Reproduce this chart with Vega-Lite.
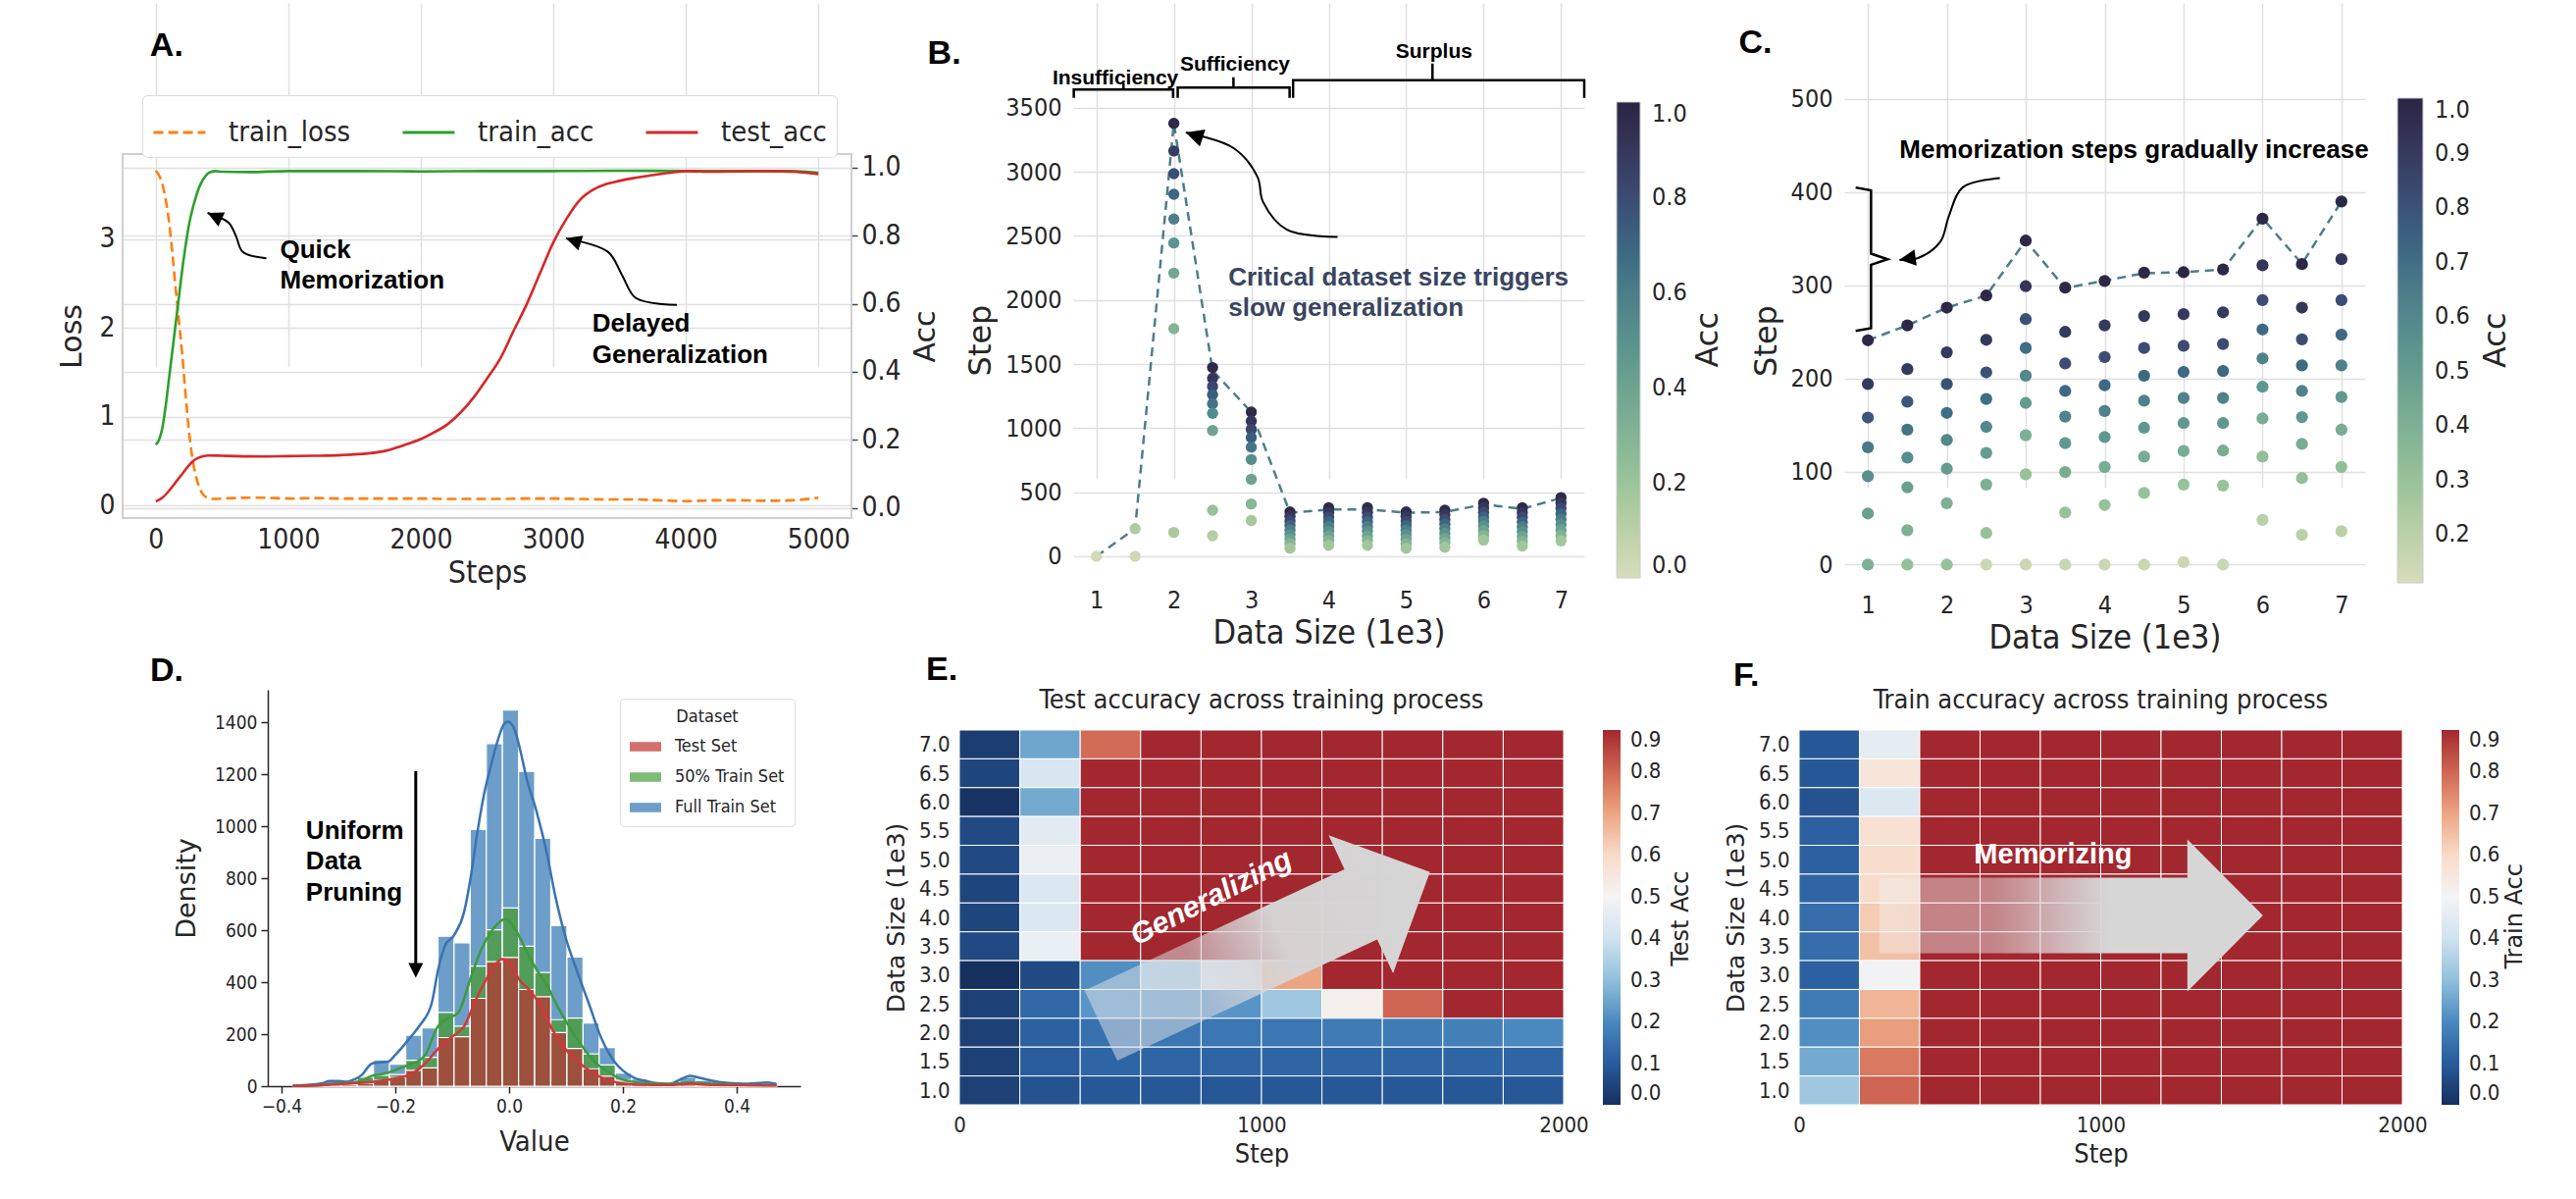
{
"$schema":"https://vega.github.io/schema/vega-lite/v6.json",
"background":"white",
"padding":0,
"spacing":650,
"bounds":"flush",
"resolve":{"scale":{"color":"independent","fill":"independent","stroke":"independent"},"legend":{"color":"independent","fill":"independent","stroke":"independent"}},
"vconcat":[
{"hconcat":[
{"width":125,"height":640,"view":{"fill":"white","stroke":null},"data":{"values":[{}]},"mark":{"type":"point","opacity":0},"encoding":{}},
{
"width":743,"height":525,
"data":{"values":[
{"s":"train_loss","t":0,"v":3.77},{"s":"train_loss","t":25,"v":3.72},{"s":"train_loss","t":50,"v":3.62},{"s":"train_loss","t":75,"v":3.45},{"s":"train_loss","t":100,"v":3.2},{"s":"train_loss","t":125,"v":2.85},{"s":"train_loss","t":150,"v":2.45},{"s":"train_loss","t":175,"v":2.08},{"s":"train_loss","t":200,"v":1.7},{"s":"train_loss","t":225,"v":1.25},{"s":"train_loss","t":250,"v":0.85},{"s":"train_loss","t":275,"v":0.55},{"s":"train_loss","t":300,"v":0.35},{"s":"train_loss","t":325,"v":0.22},{"s":"train_loss","t":350,"v":0.14},{"s":"train_loss","t":375,"v":0.1},{"s":"train_loss","t":400,"v":0.085},{"s":"train_loss","t":450,"v":0.075},{"s":"train_loss","t":500,"v":0.08},{"s":"train_loss","t":600,"v":0.085},{"s":"train_loss","t":700,"v":0.09},{"s":"train_loss","t":800,"v":0.09},{"s":"train_loss","t":900,"v":0.085},{"s":"train_loss","t":1000,"v":0.08},{"s":"train_loss","t":1200,"v":0.085},{"s":"train_loss","t":1400,"v":0.08},{"s":"train_loss","t":1600,"v":0.08},{"s":"train_loss","t":1800,"v":0.08},{"s":"train_loss","t":2000,"v":0.08},{"s":"train_loss","t":2200,"v":0.075},{"s":"train_loss","t":2400,"v":0.075},{"s":"train_loss","t":2600,"v":0.075},{"s":"train_loss","t":2800,"v":0.08},{"s":"train_loss","t":3000,"v":0.08},{"s":"train_loss","t":3200,"v":0.075},{"s":"train_loss","t":3400,"v":0.07},{"s":"train_loss","t":3600,"v":0.07},{"s":"train_loss","t":3800,"v":0.06},{"s":"train_loss","t":4000,"v":0.05},{"s":"train_loss","t":4200,"v":0.06},{"s":"train_loss","t":4400,"v":0.06},{"s":"train_loss","t":4600,"v":0.055},{"s":"train_loss","t":4800,"v":0.06},{"s":"train_loss","t":5000,"v":0.09},
{"s":"train_acc","t":0,"v":0.186},{"s":"train_acc","t":25,"v":0.2},{"s":"train_acc","t":50,"v":0.235},{"s":"train_acc","t":75,"v":0.3},{"s":"train_acc","t":100,"v":0.38},{"s":"train_acc","t":125,"v":0.46},{"s":"train_acc","t":150,"v":0.54},{"s":"train_acc","t":175,"v":0.62},{"s":"train_acc","t":200,"v":0.7},{"s":"train_acc","t":225,"v":0.77},{"s":"train_acc","t":250,"v":0.83},{"s":"train_acc","t":275,"v":0.875},{"s":"train_acc","t":300,"v":0.91},{"s":"train_acc","t":325,"v":0.94},{"s":"train_acc","t":350,"v":0.96},{"s":"train_acc","t":375,"v":0.975},{"s":"train_acc","t":400,"v":0.985},{"s":"train_acc","t":450,"v":0.99},{"s":"train_acc","t":500,"v":0.988},{"s":"train_acc","t":700,"v":0.987},{"s":"train_acc","t":1000,"v":0.99},{"s":"train_acc","t":1500,"v":0.99},{"s":"train_acc","t":2000,"v":0.989},{"s":"train_acc","t":2500,"v":0.99},{"s":"train_acc","t":3000,"v":0.99},{"s":"train_acc","t":3500,"v":0.991},{"s":"train_acc","t":4000,"v":0.99},{"s":"train_acc","t":4500,"v":0.99},{"s":"train_acc","t":4800,"v":0.99},{"s":"train_acc","t":5000,"v":0.985},
{"s":"test_acc","t":0,"v":0.019},{"s":"test_acc","t":50,"v":0.03},{"s":"test_acc","t":100,"v":0.05},{"s":"test_acc","t":150,"v":0.075},{"s":"test_acc","t":200,"v":0.1},{"s":"test_acc","t":250,"v":0.125},{"s":"test_acc","t":300,"v":0.143},{"s":"test_acc","t":350,"v":0.151},{"s":"test_acc","t":400,"v":0.154},{"s":"test_acc","t":500,"v":0.153},{"s":"test_acc","t":600,"v":0.152},{"s":"test_acc","t":800,"v":0.151},{"s":"test_acc","t":1000,"v":0.152},{"s":"test_acc","t":1200,"v":0.153},{"s":"test_acc","t":1400,"v":0.155},{"s":"test_acc","t":1600,"v":0.16},{"s":"test_acc","t":1700,"v":0.165},{"s":"test_acc","t":1800,"v":0.175},{"s":"test_acc","t":1900,"v":0.188},{"s":"test_acc","t":2000,"v":0.202},{"s":"test_acc","t":2100,"v":0.222},{"s":"test_acc","t":2200,"v":0.245},{"s":"test_acc","t":2300,"v":0.28},{"s":"test_acc","t":2400,"v":0.325},{"s":"test_acc","t":2500,"v":0.38},{"s":"test_acc","t":2600,"v":0.439},{"s":"test_acc","t":2700,"v":0.52},{"s":"test_acc","t":2800,"v":0.599},{"s":"test_acc","t":2900,"v":0.69},{"s":"test_acc","t":3000,"v":0.78},{"s":"test_acc","t":3100,"v":0.85},{"s":"test_acc","t":3200,"v":0.905},{"s":"test_acc","t":3300,"v":0.935},{"s":"test_acc","t":3400,"v":0.952},{"s":"test_acc","t":3500,"v":0.961},{"s":"test_acc","t":3600,"v":0.969},{"s":"test_acc","t":3700,"v":0.975},{"s":"test_acc","t":3800,"v":0.981},{"s":"test_acc","t":3900,"v":0.986},{"s":"test_acc","t":4000,"v":0.99},{"s":"test_acc","t":4200,"v":0.988},{"s":"test_acc","t":4400,"v":0.989},{"s":"test_acc","t":4600,"v":0.99},{"s":"test_acc","t":4800,"v":0.988},{"s":"test_acc","t":5000,"v":0.981}
]},
"layer":[
{"layer":[
{"transform":[{"filter":"datum.s == 'train_loss'"}],
"mark":{"type":"line","strokeWidth":2.6,"interpolate":"monotone","strokeDash":[10,5]},
"encoding":{
"x":{"field":"t","type":"quantitative","scale":{"domain":[-250,5250],"nice":false,"zero":false},"axis":{"values":[0,1000,2000,3000,4000,5000],"format":"d","title":"Steps","grid":true,"labelFlush":false,"labelFontSize":28,"titleFontSize":32,"labelPadding":8,"titlePadding":4}},
"y":{"field":"v","type":"quantitative","scale":{"domain":[-0.14,3.96],"range":[525,154],"nice":false,"zero":false},"axis":{"values":[0,1,2,3],"format":"d","title":"Loss","grid":true,"labelFontSize":28,"titleFontSize":30,"titleFont":"DejaVu Sans","labelPadding":8,"titlePadding":12}},
"color":{"field":"s","type":"nominal","scale":{"domain":["train_loss","train_acc","test_acc"],"range":["#ff7f0e","#2ca02c","#d62728"]},"legend":{"title":null,"orient":"none","legendX":20,"legendY":94,"direction":"horizontal","columns":3,"labelFontSize":29,"labelFont":"DejaVu Sans Condensed","labelColor":"#262626","symbolType":"stroke","symbolSize":2800,"symbolStrokeWidth":3,"columnPadding":46,"labelOffset":22,"padding":10,"strokeColor":"#dddddd","fillColor":"white","cornerRadius":5,"encode":{"symbols":{"update":{"strokeDash":{"signal":"datum.value == 'train_loss' ? [10,5] : [1,0]"}}}}}}
}},
{"mark":{"type":"rect","fillOpacity":0,"stroke":"#d0d0d0","strokeWidth":1.5},
"encoding":{"x":{"datum":-250,"type":"quantitative","scale":{"domain":[-250,5250],"nice":false,"zero":false}},"x2":{"datum":5250},"y":{"datum":-0.14,"type":"quantitative","scale":{"domain":[-0.14,3.96],"range":[525,154],"nice":false,"zero":false}},"y2":{"datum":3.96}}},
{"data":{"values":[{"t":-44,"v":5.07,"txt":"A."}]},"mark":{"type":"text","fontSize":34,"align":"left","baseline":"alphabetic"},
"encoding":{"x":{"field":"t","type":"quantitative","scale":{"domain":[-250,5250],"nice":false,"zero":false}},"y":{"field":"v","type":"quantitative","scale":{"domain":[-0.14,3.96],"range":[525,154],"nice":false,"zero":false}},"text":{"field":"txt"}}},
{"data":{"values":[{"t":938,"v":2.79,"txt":"Quick"},{"t":938,"v":2.45,"txt":"Memorization"},{"t":3294,"v":1.956,"txt":"Delayed"},{"t":3294,"v":1.61,"txt":"Generalization"}]},"mark":{"type":"text","fontSize":26,"align":"left","baseline":"alphabetic"},
"encoding":{"x":{"field":"t","type":"quantitative","scale":{"domain":[-250,5250],"nice":false,"zero":false}},"y":{"field":"v","type":"quantitative","scale":{"domain":[-0.14,3.96],"range":[525,154],"nice":false,"zero":false}},"text":{"field":"txt"}}},
{"data":{"values":[{"id":"q","o":0,"t":835,"v":2.786},{"id":"q","o":1,"t":657,"v":2.857},{"id":"q","o":2,"t":606,"v":3.033},{"id":"q","o":3,"t":550,"v":3.187},{"id":"q","o":4,"t":391,"v":3.297},{"id":"d","o":0,"t":3933,"v":2.26},{"id":"d","o":1,"t":3623,"v":2.338},{"id":"d","o":2,"t":3518,"v":2.599},{"id":"d","o":3,"t":3412,"v":2.859},{"id":"d","o":4,"t":3095,"v":3.011}]},
"mark":{"type":"line","interpolate":"catmull-rom","color":"black","strokeWidth":2},
"encoding":{"x":{"field":"t","type":"quantitative","scale":{"domain":[-250,5250],"nice":false,"zero":false}},"y":{"field":"v","type":"quantitative","scale":{"domain":[-0.14,3.96],"range":[525,154],"nice":false,"zero":false}},"detail":{"field":"id"},"order":{"field":"o","type":"quantitative"}}},
{"data":{"values":[{"t":391,"v":3.297}]},"mark":{"type":"point","shape":"M0,0L-1,-0.5L-1,0.5Z","filled":true,"color":"black","opacity":1,"size":1000,"angle":205},
"encoding":{"x":{"field":"t","type":"quantitative","scale":{"domain":[-250,5250],"nice":false,"zero":false}},"y":{"field":"v","type":"quantitative","scale":{"domain":[-0.14,3.96],"range":[525,154],"nice":false,"zero":false}}}},
{"data":{"values":[{"t":3095,"v":3.011}]},"mark":{"type":"point","shape":"M0,0L-1,-0.5L-1,0.5Z","filled":true,"color":"black","opacity":1,"size":1000,"angle":198},
"encoding":{"x":{"field":"t","type":"quantitative","scale":{"domain":[-250,5250],"nice":false,"zero":false}},"y":{"field":"v","type":"quantitative","scale":{"domain":[-0.14,3.96],"range":[525,154],"nice":false,"zero":false}}}}
]},
{"transform":[{"filter":"datum.s != 'train_loss'"}],
"mark":{"type":"line","strokeWidth":2.6,"interpolate":"monotone"},
"encoding":{
"x":{"field":"t","type":"quantitative","scale":{"domain":[-250,5250],"nice":false,"zero":false}},
"y":{"field":"v","type":"quantitative","scale":{"domain":[-0.03,1.04],"range":[525,154],"nice":false,"zero":false},"axis":{"orient":"right","values":[0,0.2,0.4,0.6,0.8,1],"format":".1f","title":"Acc","grid":true,"ticks":true,"tickSize":6,"tickWidth":1.5,"tickColor":"#444444","labelFontSize":28,"titleFontSize":30,"titleFont":"DejaVu Sans","titleAngle":270,"titleBaseline":"top","labelPadding":4,"titlePadding":10}},
"color":{"field":"s","type":"nominal","scale":{"domain":["train_loss","train_acc","test_acc"],"range":["#ff7f0e","#2ca02c","#d62728"]},"legend":{"title":null,"orient":"none","legendX":20,"legendY":94,"direction":"horizontal","columns":3,"labelFontSize":29,"labelFont":"DejaVu Sans Condensed","labelColor":"#262626","symbolType":"stroke","symbolSize":2800,"symbolStrokeWidth":3,"columnPadding":46,"labelOffset":22,"padding":10,"strokeColor":"#dddddd","fillColor":"white","cornerRadius":5,"encode":{"symbols":{"update":{"strokeDash":{"signal":"datum.value == 'train_loss' ? [10,5] : [1,0]"}}}}}}
}}
],
"resolve":{"scale":{"y":"independent"}}
},
{"width":226,"height":1,"data":{"values":[{}]},"mark":{"type":"point","opacity":0},"encoding":{}},
{
"width":521,"height":586,
"layer":[
{"mark":{"type":"rect","fillOpacity":0,"stroke":"#d0d0d0","strokeWidth":1.5},
"encoding":{"x":{"datum":0.7,"type":"quantitative","scale":{"domain":[0.7,7.3],"nice":false,"zero":false}},"x2":{"datum":7.3},"y":{"datum":-169,"type":"quantitative","scale":{"domain":[-169,3545],"range":[586,101],"nice":false,"zero":false}},"y2":{"datum":3545}}},
{"data":{"values":[{"x":1,"s":0},{"x":1.5,"s":215},{"x":2,"s":3379},{"x":2.5,"s":1450},{"x":3,"s":1125},{"x":3.5,"s":340},{"x":4,"s":365},{"x":4.5,"s":365},{"x":5,"s":340},{"x":5.5,"s":345},{"x":6,"s":405},{"x":6.5,"s":370},{"x":7,"s":455}]},
"mark":{"type":"line","strokeDash":[9,6],"strokeWidth":2.5,"color":"#4c7e8a"},
"encoding":{
"x":{"field":"x","type":"quantitative","scale":{"domain":[0.7,7.3],"nice":false,"zero":false},"axis":{"values":[1,2,3,4,5,6,7],"format":"d","title":"Data Size (1e3)","grid":true,"labelFlush":false,"labelFontSize":25,"titleFontSize":34,"labelPadding":10,"titlePadding":4}},
"y":{"field":"s","type":"quantitative","scale":{"domain":[-169,3545],"range":[586,101],"nice":false,"zero":false},"axis":{"values":[0,500,1000,1500,2000,2500,3000,3500],"format":"d","title":"Step","grid":true,"labelFontSize":25,"titleFontSize":32,"titleFont":"DejaVu Sans","labelPadding":12,"titlePadding":8}}
}},
{"data":{"values":[
{"x":1,"s":0,"a":0.02},{"x":1.5,"s":0,"a":0.03},{"x":1.5,"s":215,"a":0.14},
{"x":2,"s":3379,"a":0.97},{"x":2,"s":3163,"a":0.88},{"x":2,"s":2986,"a":0.79},{"x":2,"s":2825,"a":0.69},{"x":2,"s":2632,"a":0.59},{"x":2,"s":2445,"a":0.48},{"x":2,"s":2210,"a":0.38},{"x":2,"s":1776,"a":0.3},{"x":2,"s":186,"a":0.15},
{"x":2.5,"s":1473,"a":0.97},{"x":2.5,"s":1389,"a":0.9},{"x":2.5,"s":1325,"a":0.82},{"x":2.5,"s":1261,"a":0.73},{"x":2.5,"s":1190,"a":0.64},{"x":2.5,"s":1116,"a":0.53},{"x":2.5,"s":981,"a":0.4},{"x":2.5,"s":359,"a":0.22},{"x":2.5,"s":160,"a":0.12},
{"x":3,"s":1125,"a":0.97},{"x":3,"s":1054,"a":0.9},{"x":3,"s":990,"a":0.82},{"x":3,"s":926,"a":0.73},{"x":3,"s":852,"a":0.63},{"x":3,"s":755,"a":0.52},{"x":3,"s":601,"a":0.4},{"x":3,"s":408,"a":0.28},{"x":3,"s":279,"a":0.17},
{"x":3.5,"s":346,"a":0.97},{"x":3.5,"s":311,"a":0.9},{"x":3.5,"s":275,"a":0.8},{"x":3.5,"s":240,"a":0.7},{"x":3.5,"s":205,"a":0.6},{"x":3.5,"s":169,"a":0.5},{"x":3.5,"s":134,"a":0.4},{"x":3.5,"s":98,"a":0.3},{"x":3.5,"s":63,"a":0.18},
{"x":4,"s":378,"a":0.97},{"x":4,"s":342,"a":0.9},{"x":4,"s":305,"a":0.8},{"x":4,"s":269,"a":0.7},{"x":4,"s":232,"a":0.6},{"x":4,"s":196,"a":0.5},{"x":4,"s":159,"a":0.4},{"x":4,"s":123,"a":0.3},{"x":4,"s":86,"a":0.18},
{"x":4.5,"s":378,"a":0.97},{"x":4.5,"s":342,"a":0.9},{"x":4.5,"s":305,"a":0.8},{"x":4.5,"s":269,"a":0.7},{"x":4.5,"s":232,"a":0.6},{"x":4.5,"s":196,"a":0.5},{"x":4.5,"s":159,"a":0.4},{"x":4.5,"s":123,"a":0.3},{"x":4.5,"s":86,"a":0.18},
{"x":5,"s":346,"a":0.97},{"x":5,"s":311,"a":0.9},{"x":5,"s":275,"a":0.8},{"x":5,"s":240,"a":0.7},{"x":5,"s":205,"a":0.6},{"x":5,"s":169,"a":0.5},{"x":5,"s":134,"a":0.4},{"x":5,"s":98,"a":0.3},{"x":5,"s":63,"a":0.18},
{"x":5.5,"s":359,"a":0.97},{"x":5.5,"s":323,"a":0.9},{"x":5.5,"s":287,"a":0.8},{"x":5.5,"s":251,"a":0.7},{"x":5.5,"s":215,"a":0.6},{"x":5.5,"s":178,"a":0.5},{"x":5.5,"s":142,"a":0.4},{"x":5.5,"s":106,"a":0.3},{"x":5.5,"s":70,"a":0.18},
{"x":6,"s":414,"a":0.97},{"x":6,"s":378,"a":0.9},{"x":6,"s":342,"a":0.8},{"x":6,"s":306,"a":0.7},{"x":6,"s":271,"a":0.6},{"x":6,"s":235,"a":0.5},{"x":6,"s":199,"a":0.4},{"x":6,"s":163,"a":0.3},{"x":6,"s":127,"a":0.18},
{"x":6.5,"s":378,"a":0.97},{"x":6.5,"s":341,"a":0.9},{"x":6.5,"s":304,"a":0.8},{"x":6.5,"s":266,"a":0.7},{"x":6.5,"s":229,"a":0.6},{"x":6.5,"s":192,"a":0.5},{"x":6.5,"s":155,"a":0.4},{"x":6.5,"s":117,"a":0.3},{"x":6.5,"s":80,"a":0.18},
{"x":7,"s":458,"a":0.97},{"x":7,"s":416,"a":0.9},{"x":7,"s":374,"a":0.8},{"x":7,"s":331,"a":0.7},{"x":7,"s":289,"a":0.6},{"x":7,"s":247,"a":0.5},{"x":7,"s":205,"a":0.4},{"x":7,"s":162,"a":0.3},{"x":7,"s":120,"a":0.18}
]},
"mark":{"type":"circle","size":130,"opacity":1},
"encoding":{
"x":{"field":"x","type":"quantitative","scale":{"domain":[0.7,7.3],"nice":false,"zero":false}},
"y":{"field":"s","type":"quantitative","scale":{"domain":[-169,3545],"range":[586,101],"nice":false,"zero":false}},
"color":{"field":"a","type":"quantitative","scale":{"domain":[0,0.2,0.4,0.6,0.8,1],"range":["#d7dcbc","#9bc49a","#6ea390","#4d7d88","#3c4b73","#2b2443"]},"legend":{"title":null,"orient":"none","legendX":554,"legendY":101,"direction":"vertical","gradientLength":485,"gradientThickness":24,"gradientStrokeColor":"#cccccc","gradientStrokeWidth":1,"values":[0,0.2,0.4,0.6,0.8,1],"format":".1f","labelFontSize":25,"labelOffset":12,"labelOverlap":false,"padding":0}}
}},
{"data":{"values":[{"b":"i","o":0,"x":0.708,"s":3578},{"b":"i","o":1,"x":0.708,"s":3642},{"b":"i","o":2,"x":1.35,"s":3642},{"b":"i","o":3,"x":1.35,"s":3690},{"b":"i","o":4,"x":1.35,"s":3642},{"b":"i","o":5,"x":1.99,"s":3642},{"b":"i","o":6,"x":1.99,"s":3578},
{"b":"s","o":0,"x":2.05,"s":3578},{"b":"s","o":1,"x":2.05,"s":3658},{"b":"s","o":2,"x":2.77,"s":3658},{"b":"s","o":3,"x":2.77,"s":3739},{"b":"s","o":4,"x":2.77,"s":3658},{"b":"s","o":5,"x":3.495,"s":3658},{"b":"s","o":6,"x":3.495,"s":3578},
{"b":"u","o":0,"x":3.54,"s":3578},{"b":"u","o":1,"x":3.54,"s":3716},{"b":"u","o":2,"x":5.34,"s":3716},{"b":"u","o":3,"x":5.34,"s":3845},{"b":"u","o":4,"x":5.34,"s":3716},{"b":"u","o":5,"x":7.3,"s":3716},{"b":"u","o":6,"x":7.3,"s":3578}]},
"mark":{"type":"line","color":"black","strokeWidth":2.5},
"encoding":{"x":{"field":"x","type":"quantitative","scale":{"domain":[0.7,7.3],"nice":false,"zero":false}},"y":{"field":"s","type":"quantitative","scale":{"domain":[-169,3545],"range":[586,101],"nice":false,"zero":false}},"detail":{"field":"b"},"order":{"field":"o","type":"quantitative"}}},
{"data":{"values":[{"x":1.246,"s":3685,"txt":"Insufficiency"},{"x":2.79,"s":3790,"txt":"Sufficiency"},{"x":5.36,"s":3887,"txt":"Surplus"}]},
"mark":{"type":"text","fontSize":21,"align":"center","baseline":"alphabetic"},
"encoding":{"x":{"field":"x","type":"quantitative","scale":{"domain":[0.7,7.3],"nice":false,"zero":false}},"y":{"field":"s","type":"quantitative","scale":{"domain":[-169,3545],"range":[586,101],"nice":false,"zero":false}},"text":{"field":"txt"}}},
{"data":{"values":[{"o":0,"x":4.114,"s":2493},{"o":1,"x":3.461,"s":2548},{"o":2,"x":3.151,"s":2767},{"o":3,"x":3.081,"s":2960},{"o":4,"x":2.773,"s":3185},{"o":5,"x":2.154,"s":3307}]},
"mark":{"type":"line","interpolate":"catmull-rom","color":"black","strokeWidth":2},
"encoding":{"x":{"field":"x","type":"quantitative","scale":{"domain":[0.7,7.3],"nice":false,"zero":false}},"y":{"field":"s","type":"quantitative","scale":{"domain":[-169,3545],"range":[586,101],"nice":false,"zero":false}},"order":{"field":"o","type":"quantitative"}}},
{"data":{"values":[{"x":2.154,"s":3307}]},"mark":{"type":"point","shape":"M0,0L-1,-0.5L-1,0.5Z","filled":true,"color":"black","opacity":1,"size":1300,"angle":198},
"encoding":{"x":{"field":"x","type":"quantitative","scale":{"domain":[0.7,7.3],"nice":false,"zero":false}},"y":{"field":"s","type":"quantitative","scale":{"domain":[-169,3545],"range":[586,101],"nice":false,"zero":false}}}},
{"data":{"values":[{"x":2.704,"s":2114,"txt":"Critical dataset size triggers"},{"x":2.704,"s":1875,"txt":"slow generalization"}]},
"mark":{"type":"text","fontSize":26,"align":"left","baseline":"alphabetic","color":"#3a4560"},
"encoding":{"x":{"field":"x","type":"quantitative","scale":{"domain":[0.7,7.3],"nice":false,"zero":false}},"y":{"field":"s","type":"quantitative","scale":{"domain":[-169,3545],"range":[586,101],"nice":false,"zero":false}},"text":{"field":"txt"}}},
{"data":{"values":[{"x":-1.18,"s":3846,"txt":"B."}]},
"mark":{"type":"text","fontSize":34,"align":"left","baseline":"alphabetic"},
"encoding":{"x":{"field":"x","type":"quantitative","scale":{"domain":[0.7,7.3],"nice":false,"zero":false}},"y":{"field":"s","type":"quantitative","scale":{"domain":[-169,3545],"range":[586,101],"nice":false,"zero":false}},"text":{"field":"txt"}}},
{"data":{"values":[{"x":8.89,"s":1690,"txt":"Acc"}]},
"mark":{"type":"text","font":"DejaVu Sans","fontWeight":"normal","fontSize":32,"color":"#262626","angle":270,"align":"center","baseline":"middle"},
"encoding":{"x":{"field":"x","type":"quantitative","scale":{"domain":[0.7,7.3],"nice":false,"zero":false}},"y":{"field":"s","type":"quantitative","scale":{"domain":[-169,3545],"range":[586,101],"nice":false,"zero":false}},"text":{"field":"txt"}}}
]
},
{"width":265,"height":1,"data":{"values":[{}]},"mark":{"type":"point","opacity":0},"encoding":{}},
{
"width":531,"height":591,
"layer":[
{"mark":{"type":"rect","fillOpacity":0,"stroke":"#d0d0d0","strokeWidth":1.5},
"encoding":{"x":{"datum":0.7,"type":"quantitative","scale":{"domain":[0.7,7.3],"nice":false,"zero":false}},"x2":{"datum":7.3},"y":{"datum":-19.5,"type":"quantitative","scale":{"domain":[-19.5,501],"range":[591,97],"nice":false,"zero":false}},"y2":{"datum":501}}},
{"data":{"values":[{"x":1,"s":241},{"x":1.5,"s":257},{"x":2,"s":276},{"x":2.5,"s":289},{"x":3,"s":348},{"x":3.5,"s":297},{"x":4,"s":305},{"x":4.5,"s":313},{"x":5,"s":314},{"x":5.5,"s":317},{"x":6,"s":372},{"x":6.5,"s":323},{"x":7,"s":390}]},
"mark":{"type":"line","strokeDash":[9,6],"strokeWidth":2.5,"color":"#4c7e8a"},
"encoding":{
"x":{"field":"x","type":"quantitative","scale":{"domain":[0.7,7.3],"nice":false,"zero":false},"axis":{"values":[1,2,3,4,5,6,7],"format":"d","title":"Data Size (1e3)","grid":true,"labelFlush":false,"labelFontSize":25,"titleFontSize":34,"labelPadding":10,"titlePadding":4}},
"y":{"field":"s","type":"quantitative","scale":{"domain":[-19.5,501],"range":[591,97],"nice":false,"zero":false},"axis":{"values":[0,100,200,300,400,500],"format":"d","title":"Step","grid":true,"labelFontSize":25,"titleFontSize":32,"titleFont":"DejaVu Sans","labelPadding":12,"titlePadding":8}}
}},
{"data":{"values":[
{"x":1,"s":241,"a":0.98},{"x":1,"s":194,"a":0.9},{"x":1,"s":158,"a":0.78},{"x":1,"s":126,"a":0.66},{"x":1,"s":95,"a":0.56},{"x":1,"s":55,"a":0.48},{"x":1,"s":0,"a":0.4},
{"x":1.5,"s":257,"a":0.98},{"x":1.5,"s":210,"a":0.9},{"x":1.5,"s":175,"a":0.78},{"x":1.5,"s":145,"a":0.68},{"x":1.5,"s":115,"a":0.57},{"x":1.5,"s":83,"a":0.48},{"x":1.5,"s":37,"a":0.4},{"x":1.5,"s":0,"a":0.32},
{"x":2,"s":276,"a":0.98},{"x":2,"s":228,"a":0.9},{"x":2,"s":194,"a":0.8},{"x":2,"s":163,"a":0.7},{"x":2,"s":134,"a":0.6},{"x":2,"s":103,"a":0.5},{"x":2,"s":66,"a":0.4},{"x":2,"s":0,"a":0.3},
{"x":2.5,"s":289,"a":0.98},{"x":2.5,"s":241.5,"a":0.9},{"x":2.5,"s":206.5,"a":0.8},{"x":2.5,"s":178,"a":0.7},{"x":2.5,"s":148,"a":0.6},{"x":2.5,"s":120,"a":0.5},{"x":2.5,"s":86,"a":0.4},{"x":2.5,"s":34,"a":0.3},{"x":2.5,"s":0,"a":0.15},
{"x":3,"s":348,"a":0.98},{"x":3,"s":299,"a":0.92},{"x":3,"s":263.7,"a":0.8},{"x":3,"s":232.7,"a":0.7},{"x":3,"s":203,"a":0.6},{"x":3,"s":173.6,"a":0.5},{"x":3,"s":139,"a":0.4},{"x":3,"s":97,"a":0.3},{"x":3,"s":0,"a":0.15},
{"x":3.5,"s":297.5,"a":0.98},{"x":3.5,"s":250,"a":0.9},{"x":3.5,"s":216,"a":0.82},{"x":3.5,"s":186.5,"a":0.72},{"x":3.5,"s":159,"a":0.62},{"x":3.5,"s":130.5,"a":0.52},{"x":3.5,"s":99.5,"a":0.42},{"x":3.5,"s":56,"a":0.3},{"x":3.5,"s":0,"a":0.15},
{"x":4,"s":304.6,"a":0.98},{"x":4,"s":257,"a":0.9},{"x":4,"s":223,"a":0.82},{"x":4,"s":192.7,"a":0.72},{"x":4,"s":165,"a":0.62},{"x":4,"s":137,"a":0.52},{"x":4,"s":105,"a":0.42},{"x":4,"s":64,"a":0.3},{"x":4,"s":0,"a":0.15},
{"x":4.5,"s":313.5,"a":0.98},{"x":4.5,"s":267,"a":0.9},{"x":4.5,"s":232.7,"a":0.82},{"x":4.5,"s":203,"a":0.72},{"x":4.5,"s":176,"a":0.62},{"x":4.5,"s":147,"a":0.52},{"x":4.5,"s":116,"a":0.42},{"x":4.5,"s":77,"a":0.3},{"x":4.5,"s":0,"a":0.15},
{"x":5,"s":314,"a":0.98},{"x":5,"s":269,"a":0.9},{"x":5,"s":235,"a":0.82},{"x":5,"s":207,"a":0.72},{"x":5,"s":179,"a":0.62},{"x":5,"s":152,"a":0.52},{"x":5,"s":122,"a":0.42},{"x":5,"s":86,"a":0.3},{"x":5,"s":2.7,"a":0.15},
{"x":5.5,"s":317,"a":0.98},{"x":5.5,"s":271,"a":0.9},{"x":5.5,"s":237,"a":0.82},{"x":5.5,"s":208,"a":0.72},{"x":5.5,"s":179,"a":0.62},{"x":5.5,"s":152,"a":0.52},{"x":5.5,"s":122.5,"a":0.42},{"x":5.5,"s":85,"a":0.3},{"x":5.5,"s":0,"a":0.15},
{"x":6,"s":371.6,"a":0.98},{"x":6,"s":321.5,"a":0.92},{"x":6,"s":284,"a":0.82},{"x":6,"s":252.6,"a":0.72},{"x":6,"s":221.5,"a":0.62},{"x":6,"s":191,"a":0.52},{"x":6,"s":157,"a":0.42},{"x":6,"s":116,"a":0.32},{"x":6,"s":48,"a":0.2},
{"x":6.5,"s":322.8,"a":0.98},{"x":6.5,"s":276,"a":0.92},{"x":6.5,"s":242,"a":0.82},{"x":6.5,"s":214,"a":0.72},{"x":6.5,"s":186.5,"a":0.62},{"x":6.5,"s":158.5,"a":0.52},{"x":6.5,"s":129.6,"a":0.42},{"x":6.5,"s":93,"a":0.32},{"x":6.5,"s":32,"a":0.2},
{"x":7,"s":390,"a":0.98},{"x":7,"s":328,"a":0.92},{"x":7,"s":284,"a":0.82},{"x":7,"s":247,"a":0.72},{"x":7,"s":214,"a":0.62},{"x":7,"s":180,"a":0.52},{"x":7,"s":145,"a":0.42},{"x":7,"s":105,"a":0.32},{"x":7,"s":36,"a":0.2}
]},
"mark":{"type":"circle","size":150,"opacity":1},
"encoding":{
"x":{"field":"x","type":"quantitative","scale":{"domain":[0.7,7.3],"nice":false,"zero":false}},
"y":{"field":"s","type":"quantitative","scale":{"domain":[-19.5,501],"range":[591,97],"nice":false,"zero":false}},
"color":{"field":"a","type":"quantitative","scale":{"domain":[0.11,0.288,0.466,0.644,0.822,1],"range":["#d7dcbc","#9bc49a","#6ea390","#4d7d88","#3c4b73","#2b2443"]},"legend":{"title":null,"orient":"none","legendX":564,"legendY":97,"direction":"vertical","gradientLength":494,"gradientThickness":26,"gradientStrokeColor":"#cccccc","gradientStrokeWidth":1,"values":[0.2,0.3,0.4,0.5,0.6,0.7,0.8,0.9,1],"format":".1f","labelFontSize":25,"labelOffset":12,"labelOverlap":false,"padding":0}}
}},
{"data":{"values":[{"o":0,"x":0.845,"s":405},{"o":1,"x":1.04,"s":402},{"o":2,"x":1.04,"s":334},{"o":3,"x":1.25,"s":328},{"o":4,"x":1.04,"s":322},{"o":5,"x":1.04,"s":254},{"o":6,"x":0.845,"s":251}]},
"mark":{"type":"line","color":"black","strokeWidth":2.5},
"encoding":{"x":{"field":"x","type":"quantitative","scale":{"domain":[0.7,7.3],"nice":false,"zero":false}},"y":{"field":"s","type":"quantitative","scale":{"domain":[-19.5,501],"range":[591,97],"nice":false,"zero":false}},"order":{"field":"o","type":"quantitative"}}},
{"data":{"values":[{"o":0,"x":2.672,"s":415.2},{"o":1,"x":2.199,"s":405},{"o":2,"x":2.025,"s":374},{"o":3,"x":1.92,"s":347},{"o":4,"x":1.643,"s":329.5},{"o":5,"x":1.4,"s":327.3}]},
"mark":{"type":"line","interpolate":"catmull-rom","color":"black","strokeWidth":2},
"encoding":{"x":{"field":"x","type":"quantitative","scale":{"domain":[0.7,7.3],"nice":false,"zero":false}},"y":{"field":"s","type":"quantitative","scale":{"domain":[-19.5,501],"range":[591,97],"nice":false,"zero":false}},"order":{"field":"o","type":"quantitative"}}},
{"data":{"values":[{"x":1.4,"s":327.3}]},"mark":{"type":"point","shape":"M0,0L-1,-0.5L-1,0.5Z","filled":true,"color":"black","opacity":1,"size":1100,"angle":172},
"encoding":{"x":{"field":"x","type":"quantitative","scale":{"domain":[0.7,7.3],"nice":false,"zero":false}},"y":{"field":"s","type":"quantitative","scale":{"domain":[-19.5,501],"range":[591,97],"nice":false,"zero":false}}}},
{"data":{"values":[{"x":1.4,"s":437,"txt":"Memorization steps gradually increase"}]},
"mark":{"type":"text","fontSize":26,"align":"left","baseline":"alphabetic"},
"encoding":{"x":{"field":"x","type":"quantitative","scale":{"domain":[0.7,7.3],"nice":false,"zero":false}},"y":{"field":"s","type":"quantitative","scale":{"domain":[-19.5,501],"range":[591,97],"nice":false,"zero":false}},"text":{"field":"txt"}}},
{"data":{"values":[{"x":-0.636,"s":549,"txt":"C."}]},
"mark":{"type":"text","fontSize":34,"align":"left","baseline":"alphabetic"},
"encoding":{"x":{"field":"x","type":"quantitative","scale":{"domain":[0.7,7.3],"nice":false,"zero":false}},"y":{"field":"s","type":"quantitative","scale":{"domain":[-19.5,501],"range":[591,97],"nice":false,"zero":false}},"text":{"field":"txt"}}},
{"data":{"values":[{"x":8.95,"s":241,"txt":"Acc"}]},
"mark":{"type":"text","font":"DejaVu Sans","fontWeight":"normal","fontSize":32,"color":"#262626","angle":270,"align":"center","baseline":"middle"},
"encoding":{"x":{"field":"x","type":"quantitative","scale":{"domain":[0.7,7.3],"nice":false,"zero":false}},"y":{"field":"s","type":"quantitative","scale":{"domain":[-19.5,501],"range":[591,97],"nice":false,"zero":false}},"text":{"field":"txt"}}}
]
}
],"spacing":0,"bounds":"flush","resolve":{"scale":{"color":"independent","fill":"independent","stroke":"independent"},"legend":{"color":"independent","fill":"independent","stroke":"independent"}}},
{"hconcat":[
{"width":273,"height":1,"view":{"fill":"white","stroke":null},"data":{"values":[{}]},"mark":{"type":"point","opacity":0},"encoding":{}},
{
"width":543,"height":454,
"layer":[
{"data":{"values":[
{"x0":-0.38,"x1":-0.3517,"full":6,"half":2,"test":2},{"x0":-0.3517,"x1":-0.3233,"full":8,"half":3,"test":2},{"x0":-0.3233,"x1":-0.295,"full":22,"half":8,"test":5},{"x0":-0.295,"x1":-0.2667,"full":17,"half":11,"test":6},{"x0":-0.2667,"x1":-0.2383,"full":38,"half":34,"test":11},{"x0":-0.2383,"x1":-0.21,"full":101,"half":42,"test":22},{"x0":-0.21,"x1":-0.1817,"full":84,"half":45,"test":34},{"x0":-0.1817,"x1":-0.1533,"full":196,"half":100,"test":61},{"x0":-0.1533,"x1":-0.125,"full":224,"half":111,"test":70},{"x0":-0.125,"x1":-0.0967,"full":577,"half":284,"test":187},{"x0":-0.0967,"x1":-0.0683,"full":552,"half":231,"test":190},{"x0":-0.0683,"x1":-0.04,"full":988,"half":462,"test":338},{"x0":-0.04,"x1":-0.0117,"full":1319,"half":602,"test":479},{"x0":-0.0117,"x1":0.0167,"full":1448,"half":686,"test":495},{"x0":0.0167,"x1":0.045,"full":1212,"half":539,"test":372},{"x0":0.045,"x1":0.0733,"full":954,"half":438,"test":344},{"x0":0.0733,"x1":0.1017,"full":618,"half":256,"test":206},{"x0":0.1017,"x1":0.13,"full":497,"half":262,"test":145},{"x0":0.13,"x1":0.1583,"full":243,"half":124,"test":67},{"x0":0.1583,"x1":0.1867,"full":149,"half":82,"test":38},{"x0":0.1867,"x1":0.215,"full":50,"half":22,"test":15},{"x0":0.215,"x1":0.2433,"full":28,"half":10,"test":6},{"x0":0.2433,"x1":0.2717,"full":17,"half":8,"test":4},{"x0":0.2717,"x1":0.3,"full":10,"half":6,"test":3},{"x0":0.3,"x1":0.3283,"full":34,"half":12,"test":8},{"x0":0.3283,"x1":0.3567,"full":22,"half":8,"test":5},{"x0":0.3567,"x1":0.385,"full":17,"half":6,"test":4},{"x0":0.385,"x1":0.4133,"full":10,"half":5,"test":3},{"x0":0.4133,"x1":0.4417,"full":10,"half":5,"test":3},{"x0":0.4417,"x1":0.47,"full":17,"half":7,"test":5}
]},
"transform":[{"fold":["full","half","test"],"as":["ds","n"]}],
"mark":{"type":"rect","stroke":"white","strokeWidth":1.2,"opacity":1},
"encoding":{
"x":{"field":"x0","type":"quantitative","scale":{"domain":[-0.424,0.512],"nice":false,"zero":false},"axis":{"values":[-0.4,-0.2,0,0.2,0.4],"format":".1f","title":"Value","domain":true,"domainColor":"#262626","domainWidth":1.5,"ticks":true,"tickColor":"#262626","tickWidth":1.5,"tickSize":7,"labelFlush":false,"labelFontSize":19,"titleFontSize":29,"labelPadding":4,"titlePadding":12,"grid":false}},
"x2":{"field":"x1"},
"y":{"field":"n","type":"quantitative","scale":{"domain":[0,1526],"range":[454,50],"nice":false,"zero":false},"axis":{"values":[0,200,400,600,800,1000,1200,1400],"format":"d","title":"Density","domain":true,"domainColor":"#262626","domainWidth":1.5,"ticks":true,"tickColor":"#262626","tickWidth":1.5,"tickSize":7,"labelFontSize":19,"titleFontSize":27,"titleFont":"DejaVu Sans","labelPadding":4,"titlePadding":14,"grid":false}},
"y2":{"datum":0},
"color":{"field":"ds","type":"nominal","scale":{"domain":["full","half","test"],"range":["#6d9ec9","#529c5a","#9c503d"]},"legend":null}
}},
{"data":{"values":[
{"ds":"full","v":-0.38,"d":2},{"ds":"full","v":-0.35,"d":6},{"ds":"full","v":-0.33,"d":10},{"ds":"full","v":-0.315,"d":20},{"ds":"full","v":-0.3,"d":20},{"ds":"full","v":-0.288,"d":17},{"ds":"full","v":-0.27,"d":28},{"ds":"full","v":-0.259,"d":43},{"ds":"full","v":-0.241,"d":87},{"ds":"full","v":-0.225,"d":92},{"ds":"full","v":-0.213,"d":94},{"ds":"full","v":-0.2,"d":120},{"ds":"full","v":-0.185,"d":157},{"ds":"full","v":-0.171,"d":194},{"ds":"full","v":-0.157,"d":234},{"ds":"full","v":-0.136,"d":319},{"ds":"full","v":-0.125,"d":445},{"ds":"full","v":-0.113,"d":539},{"ds":"full","v":-0.096,"d":583},{"ds":"full","v":-0.079,"d":671},{"ds":"full","v":-0.067,"d":810},{"ds":"full","v":-0.056,"d":973},{"ds":"full","v":-0.044,"d":1124},{"ds":"full","v":-0.033,"d":1225},{"ds":"full","v":-0.02,"d":1330},{"ds":"full","v":-0.01,"d":1390},{"ds":"full","v":-0.002,"d":1403},{"ds":"full","v":0.01,"d":1370},{"ds":"full","v":0.02,"d":1290},{"ds":"full","v":0.0305,"d":1187},{"ds":"full","v":0.0478,"d":1061},{"ds":"full","v":0.065,"d":910},{"ds":"full","v":0.0822,"d":722},{"ds":"full","v":0.0995,"d":571},{"ds":"full","v":0.117,"d":457},{"ds":"full","v":0.14,"d":319},{"ds":"full","v":0.163,"d":180},{"ds":"full","v":0.186,"d":92},{"ds":"full","v":0.2,"d":60},{"ds":"full","v":0.22,"d":32},{"ds":"full","v":0.24,"d":20},{"ds":"full","v":0.26,"d":11},{"ds":"full","v":0.283,"d":9},{"ds":"full","v":0.3,"d":25},{"ds":"full","v":0.318,"d":40},{"ds":"full","v":0.335,"d":32},{"ds":"full","v":0.357,"d":21},{"ds":"full","v":0.385,"d":12},{"ds":"full","v":0.414,"d":9},{"ds":"full","v":0.44,"d":12},{"ds":"full","v":0.455,"d":14},{"ds":"full","v":0.47,"d":8},
{"ds":"half","v":-0.38,"d":1},{"ds":"half","v":-0.33,"d":4},{"ds":"half","v":-0.3,"d":10},{"ds":"half","v":-0.288,"d":12},{"ds":"half","v":-0.26,"d":20},{"ds":"half","v":-0.241,"d":40},{"ds":"half","v":-0.22,"d":48},{"ds":"half","v":-0.2,"d":62},{"ds":"half","v":-0.185,"d":75},{"ds":"half","v":-0.171,"d":86},{"ds":"half","v":-0.148,"d":118},{"ds":"half","v":-0.125,"d":231},{"ds":"half","v":-0.107,"d":262},{"ds":"half","v":-0.09,"d":281},{"ds":"half","v":-0.067,"d":420},{"ds":"half","v":-0.05,"d":520},{"ds":"half","v":-0.027,"d":608},{"ds":"half","v":-0.007,"d":643},{"ds":"half","v":0.0133,"d":595},{"ds":"half","v":0.0305,"d":520},{"ds":"half","v":0.0478,"d":451},{"ds":"half","v":0.065,"d":394},{"ds":"half","v":0.0822,"d":319},{"ds":"half","v":0.105,"d":231},{"ds":"half","v":0.128,"d":155},{"ds":"half","v":0.151,"d":92},{"ds":"half","v":0.174,"d":55},{"ds":"half","v":0.203,"d":23},{"ds":"half","v":0.243,"d":11},{"ds":"half","v":0.28,"d":8},{"ds":"half","v":0.32,"d":14},{"ds":"half","v":0.36,"d":9},{"ds":"half","v":0.4,"d":6},{"ds":"half","v":0.47,"d":4},
{"ds":"test","v":-0.38,"d":1},{"ds":"test","v":-0.33,"d":4},{"ds":"test","v":-0.3,"d":8},{"ds":"test","v":-0.25,"d":14},{"ds":"test","v":-0.2,"d":30},{"ds":"test","v":-0.171,"d":48},{"ds":"test","v":-0.148,"d":86},{"ds":"test","v":-0.125,"d":143},{"ds":"test","v":-0.102,"d":187},{"ds":"test","v":-0.079,"d":231},{"ds":"test","v":-0.056,"d":344},{"ds":"test","v":-0.038,"d":420},{"ds":"test","v":-0.021,"d":476},{"ds":"test","v":-0.0126,"d":489},{"ds":"test","v":0.0017,"d":470},{"ds":"test","v":0.019,"d":407},{"ds":"test","v":0.036,"d":369},{"ds":"test","v":0.053,"d":319},{"ds":"test","v":0.076,"d":218},{"ds":"test","v":0.099,"d":143},{"ds":"test","v":0.122,"d":92},{"ds":"test","v":0.145,"d":55},{"ds":"test","v":0.174,"d":23},{"ds":"test","v":0.22,"d":7},{"ds":"test","v":0.28,"d":5},{"ds":"test","v":0.32,"d":9},{"ds":"test","v":0.36,"d":5},{"ds":"test","v":0.47,"d":3}
]},
"mark":{"type":"line","strokeWidth":2.5,"interpolate":"monotone"},
"encoding":{
"x":{"field":"v","type":"quantitative","scale":{"domain":[-0.424,0.512],"nice":false,"zero":false}},
"y":{"field":"d","type":"quantitative","scale":{"domain":[0,1526],"range":[454,50],"nice":false,"zero":false}},
"stroke":{"field":"ds","type":"nominal","scale":{"domain":["full","half","test"],"range":["#3b73b2","#3d9b3d","#d4363a"]},"legend":null}
}},
{"data":{"values":[{"ds":"Test Set"},{"ds":"50% Train Set"},{"ds":"Full Train Set"}]},
"mark":{"type":"square","size":0,"opacity":1},
"encoding":{"fill":{"field":"ds","type":"nominal","scale":{"domain":["Test Set","50% Train Set","Full Train Set"],"range":["#d4706b","#7dbb76","#6d9ec9"]},"legend":{"title":"Dataset","orient":"none","legendX":359,"legendY":59,"symbolType":"M-1,-0.3H1V0.3H-1Z","symbolSize":1024,"symbolStrokeWidth":0,"labelFontSize":18,"titleFontSize":18,"titleFont":"DejaVu Sans Condensed","titleAnchor":"middle","padding":10,"strokeColor":"#dddddd","fillColor":"white","cornerRadius":4,"rowPadding":6,"labelOffset":14}}}},
{"data":{"values":[{"v":-0.164,"d":1213,"e":440}]},
"mark":{"type":"rule","color":"black","strokeWidth":3},
"encoding":{"x":{"field":"v","type":"quantitative","scale":{"domain":[-0.424,0.512],"nice":false,"zero":false}},"y":{"field":"d","type":"quantitative","scale":{"domain":[0,1526],"range":[454,50],"nice":false,"zero":false}},"y2":{"field":"e"}}},
{"data":{"values":[{"v":-0.164,"d":417}]},"mark":{"type":"point","shape":"M0,0L-1,-0.5L-1,0.5Z","filled":true,"color":"black","opacity":1,"size":900,"angle":90},
"encoding":{"x":{"field":"v","type":"quantitative","scale":{"domain":[-0.424,0.512],"nice":false,"zero":false}},"y":{"field":"d","type":"quantitative","scale":{"domain":[0,1526],"range":[454,50],"nice":false,"zero":false}}}},
{"data":{"values":[{"v":-0.357,"d":953,"txt":"Uniform"},{"v":-0.357,"d":833,"txt":"Data"},{"v":-0.357,"d":714,"txt":"Pruning"}]},
"mark":{"type":"text","fontSize":26,"align":"left","baseline":"alphabetic"},
"encoding":{"x":{"field":"v","type":"quantitative","scale":{"domain":[-0.424,0.512],"nice":false,"zero":false}},"y":{"field":"d","type":"quantitative","scale":{"domain":[0,1526],"range":[454,50],"nice":false,"zero":false}},"text":{"field":"txt"}}},
{"data":{"values":[{"v":-0.631,"d":1561,"txt":"D."}]},
"mark":{"type":"text","fontSize":34,"align":"left","baseline":"alphabetic"},
"encoding":{"x":{"field":"v","type":"quantitative","scale":{"domain":[-0.424,0.512],"nice":false,"zero":false}},"y":{"field":"d","type":"quantitative","scale":{"domain":[0,1526],"range":[454,50],"nice":false,"zero":false}},"text":{"field":"txt"}}}
]
},
{"width":162,"height":1,"data":{"values":[{}]},"mark":{"type":"point","opacity":0},"encoding":{}},
{
"width":616,"height":473,
"layer":[
{"data":{"values":[
{"d":7,"s":100,"a":0.03},{"d":7,"s":300,"a":0.25},{"d":7,"s":500,"a":0.79},{"d":7,"s":700,"a":0.93},{"d":7,"s":900,"a":0.93},{"d":7,"s":1100,"a":0.93},{"d":7,"s":1300,"a":0.93},{"d":7,"s":1500,"a":0.93},{"d":7,"s":1700,"a":0.93},{"d":7,"s":1900,"a":0.93},
{"d":6.5,"s":100,"a":0.05},{"d":6.5,"s":300,"a":0.42},{"d":6.5,"s":500,"a":0.93},{"d":6.5,"s":700,"a":0.93},{"d":6.5,"s":900,"a":0.93},{"d":6.5,"s":1100,"a":0.93},{"d":6.5,"s":1300,"a":0.93},{"d":6.5,"s":1500,"a":0.93},{"d":6.5,"s":1700,"a":0.93},{"d":6.5,"s":1900,"a":0.93},
{"d":6,"s":100,"a":0.01},{"d":6,"s":300,"a":0.26},{"d":6,"s":500,"a":0.93},{"d":6,"s":700,"a":0.93},{"d":6,"s":900,"a":0.93},{"d":6,"s":1100,"a":0.93},{"d":6,"s":1300,"a":0.93},{"d":6,"s":1500,"a":0.93},{"d":6,"s":1700,"a":0.93},{"d":6,"s":1900,"a":0.93},
{"d":5.5,"s":100,"a":0.06},{"d":5.5,"s":300,"a":0.45},{"d":5.5,"s":500,"a":0.93},{"d":5.5,"s":700,"a":0.93},{"d":5.5,"s":900,"a":0.93},{"d":5.5,"s":1100,"a":0.93},{"d":5.5,"s":1300,"a":0.93},{"d":5.5,"s":1500,"a":0.93},{"d":5.5,"s":1700,"a":0.93},{"d":5.5,"s":1900,"a":0.93},
{"d":5,"s":100,"a":0.06},{"d":5,"s":300,"a":0.47},{"d":5,"s":500,"a":0.93},{"d":5,"s":700,"a":0.93},{"d":5,"s":900,"a":0.93},{"d":5,"s":1100,"a":0.93},{"d":5,"s":1300,"a":0.93},{"d":5,"s":1500,"a":0.93},{"d":5,"s":1700,"a":0.93},{"d":5,"s":1900,"a":0.93},
{"d":4.5,"s":100,"a":0.05},{"d":4.5,"s":300,"a":0.43},{"d":4.5,"s":500,"a":0.93},{"d":4.5,"s":700,"a":0.93},{"d":4.5,"s":900,"a":0.93},{"d":4.5,"s":1100,"a":0.93},{"d":4.5,"s":1300,"a":0.93},{"d":4.5,"s":1500,"a":0.93},{"d":4.5,"s":1700,"a":0.93},{"d":4.5,"s":1900,"a":0.93},
{"d":4,"s":100,"a":0.05},{"d":4,"s":300,"a":0.43},{"d":4,"s":500,"a":0.93},{"d":4,"s":700,"a":0.93},{"d":4,"s":900,"a":0.93},{"d":4,"s":1100,"a":0.93},{"d":4,"s":1300,"a":0.93},{"d":4,"s":1500,"a":0.93},{"d":4,"s":1700,"a":0.93},{"d":4,"s":1900,"a":0.93},
{"d":3.5,"s":100,"a":0.06},{"d":3.5,"s":300,"a":0.47},{"d":3.5,"s":500,"a":0.93},{"d":3.5,"s":700,"a":0.93},{"d":3.5,"s":900,"a":0.93},{"d":3.5,"s":1100,"a":0.93},{"d":3.5,"s":1300,"a":0.93},{"d":3.5,"s":1500,"a":0.93},{"d":3.5,"s":1700,"a":0.93},{"d":3.5,"s":1900,"a":0.93},
{"d":3,"s":100,"a":0.0},{"d":3,"s":300,"a":0.06},{"d":3,"s":500,"a":0.21},{"d":3,"s":700,"a":0.33},{"d":3,"s":900,"a":0.42},{"d":3,"s":1100,"a":0.7},{"d":3,"s":1300,"a":0.93},{"d":3,"s":1500,"a":0.93},{"d":3,"s":1700,"a":0.93},{"d":3,"s":1900,"a":0.93},
{"d":2.5,"s":100,"a":0.04},{"d":2.5,"s":300,"a":0.13},{"d":2.5,"s":500,"a":0.22},{"d":2.5,"s":700,"a":0.23},{"d":2.5,"s":900,"a":0.22},{"d":2.5,"s":1100,"a":0.32},{"d":2.5,"s":1300,"a":0.52},{"d":2.5,"s":1500,"a":0.8},{"d":2.5,"s":1700,"a":0.93},{"d":2.5,"s":1900,"a":0.93},
{"d":2,"s":100,"a":0.04},{"d":2,"s":300,"a":0.11},{"d":2,"s":500,"a":0.15},{"d":2,"s":700,"a":0.16},{"d":2,"s":900,"a":0.16},{"d":2,"s":1100,"a":0.16},{"d":2,"s":1300,"a":0.17},{"d":2,"s":1500,"a":0.17},{"d":2,"s":1700,"a":0.18},{"d":2,"s":1900,"a":0.2},
{"d":1.5,"s":100,"a":0.04},{"d":1.5,"s":300,"a":0.1},{"d":1.5,"s":500,"a":0.12},{"d":1.5,"s":700,"a":0.12},{"d":1.5,"s":900,"a":0.12},{"d":1.5,"s":1100,"a":0.12},{"d":1.5,"s":1300,"a":0.12},{"d":1.5,"s":1500,"a":0.12},{"d":1.5,"s":1700,"a":0.12},{"d":1.5,"s":1900,"a":0.12},
{"d":1,"s":100,"a":0.04},{"d":1,"s":300,"a":0.08},{"d":1,"s":500,"a":0.09},{"d":1,"s":700,"a":0.09},{"d":1,"s":900,"a":0.09},{"d":1,"s":1100,"a":0.09},{"d":1,"s":1300,"a":0.09},{"d":1,"s":1500,"a":0.09},{"d":1,"s":1700,"a":0.09},{"d":1,"s":1900,"a":0.09}
]},
"mark":{"type":"point","shape":"M-1,-0.477H1V0.477H-1Z","filled":true,"size":3795,"opacity":1,"stroke":"white","strokeWidth":1},
"encoding":{
"x":{"field":"s","type":"quantitative","scale":{"domain":[0,2000],"nice":false,"zero":false},"axis":{"values":[0,1000,2000],"format":"d","title":"Step","labelFlush":false,"labelFontSize":22,"titleFontSize":27,"labelPadding":10,"titlePadding":6}},
"y":{"field":"d","type":"quantitative","scale":{"domain":[0.75,7.25],"range":[473,91],"nice":false,"zero":false},"axis":{"values":[1,1.5,2,2.5,3,3.5,4,4.5,5,5.5,6,6.5,7],"tickCount":30,"format":".1f","labelOverlap":false,"title":"Data Size (1e3)","titleFont":"DejaVu Sans","titleFontSize":25,"labelFontSize":22,"labelPadding":10,"titlePadding":10}},
"color":{"field":"a","type":"quantitative","scale":{"domain":[0,0.1,0.2,0.3,0.4,0.5,0.6,0.7,0.8,0.9],"range":["#15305f","#285c9d","#4a89bf","#92c0dc","#d0e3ef","#f4f4f4","#f8dbc9","#eca583","#cf6553","#a2272f"],"clamp":true},"legend":{"title":null,"orient":"none","legendX":656,"legendY":91,"direction":"vertical","gradientLength":382,"gradientThickness":18,"gradientStrokeWidth":0,"values":[0,0.1,0.2,0.3,0.4,0.5,0.6,0.7,0.8,0.9],"format":".1f","labelFontSize":22,"labelOffset":10,"labelOverlap":false,"padding":0}}
}},
{"data":{"values":[{"s":1013,"d":3.455}]},
"mark":{"type":"point","shape":"M-1,-0.2135L0.58,-0.2135L0.58,-0.42L1,0L0.58,0.42L0.58,0.2135L-1,0.2135Z","filled":true,"size":136900,"angle":335,"opacity":1,"strokeWidth":0,
"fill":{"gradient":"linear","x1":0,"y1":0,"x2":1,"y2":0,"stops":[{"offset":0,"color":"rgba(225,230,236,0.5)"},{"offset":0.3,"color":"rgba(218,218,222,0.55)"},{"offset":0.55,"color":"rgba(214,214,214,0.97)"},{"offset":1,"color":"#d6d6d6"}]}},
"encoding":{"x":{"field":"s","type":"quantitative","scale":{"domain":[0,2000],"nice":false,"zero":false}},"y":{"field":"d","type":"quantitative","scale":{"domain":[0.75,7.25],"range":[473,91],"nice":false,"zero":false}}}},
{"data":{"values":[{"s":834,"d":4.34,"txt":"Generalizing"}]},
"mark":{"type":"text","fontSize":30,"fontStyle":"italic","color":"white","angle":333,"align":"center","baseline":"middle"},
"encoding":{"x":{"field":"s","type":"quantitative","scale":{"domain":[0,2000],"nice":false,"zero":false}},"y":{"field":"d","type":"quantitative","scale":{"domain":[0.75,7.25],"range":[473,91],"nice":false,"zero":false}},"text":{"field":"txt"}}},
{"data":{"values":[{"s":1000,"d":7.62,"txt":"Test accuracy across training process"}]},
"mark":{"type":"text","font":"DejaVu Sans Condensed","fontWeight":"normal","fontSize":27,"color":"#262626","align":"center","baseline":"alphabetic"},
"encoding":{"x":{"field":"s","type":"quantitative","scale":{"domain":[0,2000],"nice":false,"zero":false}},"y":{"field":"d","type":"quantitative","scale":{"domain":[0.75,7.25],"range":[473,91],"nice":false,"zero":false}},"text":{"field":"txt"}}},
{"data":{"values":[{"s":-110,"d":8.12,"txt":"E."}]},
"mark":{"type":"text","fontSize":34,"align":"left","baseline":"alphabetic"},
"encoding":{"x":{"field":"s","type":"quantitative","scale":{"domain":[0,2000],"nice":false,"zero":false}},"y":{"field":"d","type":"quantitative","scale":{"domain":[0.75,7.25],"range":[473,91],"nice":false,"zero":false}},"text":{"field":"txt"}}},
{"data":{"values":[{"s":2390,"d":3.98,"txt":"Test Acc"}]},
"mark":{"type":"text","font":"DejaVu Sans","fontWeight":"normal","fontSize":24,"color":"#262626","angle":270,"align":"center","baseline":"middle"},
"encoding":{"x":{"field":"s","type":"quantitative","scale":{"domain":[0,2000],"nice":false,"zero":false}},"y":{"field":"d","type":"quantitative","scale":{"domain":[0.75,7.25],"range":[473,91],"nice":false,"zero":false}},"text":{"field":"txt"}}}
]
},
{"width":240,"height":1,"data":{"values":[{}]},"mark":{"type":"point","opacity":0},"encoding":{}},
{
"width":615,"height":473,
"layer":[
{"data":{"values":[
{"d":7,"s":100,"a":0.09},{"d":7,"s":300,"a":0.46},{"d":7,"s":500,"a":0.93},{"d":7,"s":700,"a":0.93},{"d":7,"s":900,"a":0.93},{"d":7,"s":1100,"a":0.93},{"d":7,"s":1300,"a":0.93},{"d":7,"s":1500,"a":0.93},{"d":7,"s":1700,"a":0.93},{"d":7,"s":1900,"a":0.93},
{"d":6.5,"s":100,"a":0.09},{"d":6.5,"s":300,"a":0.56},{"d":6.5,"s":500,"a":0.93},{"d":6.5,"s":700,"a":0.93},{"d":6.5,"s":900,"a":0.93},{"d":6.5,"s":1100,"a":0.93},{"d":6.5,"s":1300,"a":0.93},{"d":6.5,"s":1500,"a":0.93},{"d":6.5,"s":1700,"a":0.93},{"d":6.5,"s":1900,"a":0.93},
{"d":6,"s":100,"a":0.08},{"d":6,"s":300,"a":0.43},{"d":6,"s":500,"a":0.93},{"d":6,"s":700,"a":0.93},{"d":6,"s":900,"a":0.93},{"d":6,"s":1100,"a":0.93},{"d":6,"s":1300,"a":0.93},{"d":6,"s":1500,"a":0.93},{"d":6,"s":1700,"a":0.93},{"d":6,"s":1900,"a":0.93},
{"d":5.5,"s":100,"a":0.11},{"d":5.5,"s":300,"a":0.58},{"d":5.5,"s":500,"a":0.93},{"d":5.5,"s":700,"a":0.93},{"d":5.5,"s":900,"a":0.93},{"d":5.5,"s":1100,"a":0.93},{"d":5.5,"s":1300,"a":0.93},{"d":5.5,"s":1500,"a":0.93},{"d":5.5,"s":1700,"a":0.93},{"d":5.5,"s":1900,"a":0.93},
{"d":5,"s":100,"a":0.11},{"d":5,"s":300,"a":0.59},{"d":5,"s":500,"a":0.93},{"d":5,"s":700,"a":0.93},{"d":5,"s":900,"a":0.93},{"d":5,"s":1100,"a":0.93},{"d":5,"s":1300,"a":0.93},{"d":5,"s":1500,"a":0.93},{"d":5,"s":1700,"a":0.93},{"d":5,"s":1900,"a":0.93},
{"d":4.5,"s":100,"a":0.12},{"d":4.5,"s":300,"a":0.6},{"d":4.5,"s":500,"a":0.93},{"d":4.5,"s":700,"a":0.93},{"d":4.5,"s":900,"a":0.93},{"d":4.5,"s":1100,"a":0.93},{"d":4.5,"s":1300,"a":0.93},{"d":4.5,"s":1500,"a":0.93},{"d":4.5,"s":1700,"a":0.93},{"d":4.5,"s":1900,"a":0.93},
{"d":4,"s":100,"a":0.14},{"d":4,"s":300,"a":0.63},{"d":4,"s":500,"a":0.93},{"d":4,"s":700,"a":0.93},{"d":4,"s":900,"a":0.93},{"d":4,"s":1100,"a":0.93},{"d":4,"s":1300,"a":0.93},{"d":4,"s":1500,"a":0.93},{"d":4,"s":1700,"a":0.93},{"d":4,"s":1900,"a":0.93},
{"d":3.5,"s":100,"a":0.14},{"d":3.5,"s":300,"a":0.65},{"d":3.5,"s":500,"a":0.93},{"d":3.5,"s":700,"a":0.93},{"d":3.5,"s":900,"a":0.93},{"d":3.5,"s":1100,"a":0.93},{"d":3.5,"s":1300,"a":0.93},{"d":3.5,"s":1500,"a":0.93},{"d":3.5,"s":1700,"a":0.93},{"d":3.5,"s":1900,"a":0.93},
{"d":3,"s":100,"a":0.11},{"d":3,"s":300,"a":0.49},{"d":3,"s":500,"a":0.93},{"d":3,"s":700,"a":0.93},{"d":3,"s":900,"a":0.93},{"d":3,"s":1100,"a":0.93},{"d":3,"s":1300,"a":0.93},{"d":3,"s":1500,"a":0.93},{"d":3,"s":1700,"a":0.93},{"d":3,"s":1900,"a":0.93},
{"d":2.5,"s":100,"a":0.17},{"d":2.5,"s":300,"a":0.67},{"d":2.5,"s":500,"a":0.93},{"d":2.5,"s":700,"a":0.93},{"d":2.5,"s":900,"a":0.93},{"d":2.5,"s":1100,"a":0.93},{"d":2.5,"s":1300,"a":0.93},{"d":2.5,"s":1500,"a":0.93},{"d":2.5,"s":1700,"a":0.93},{"d":2.5,"s":1900,"a":0.93},
{"d":2,"s":100,"a":0.21},{"d":2,"s":300,"a":0.71},{"d":2,"s":500,"a":0.93},{"d":2,"s":700,"a":0.93},{"d":2,"s":900,"a":0.93},{"d":2,"s":1100,"a":0.93},{"d":2,"s":1300,"a":0.93},{"d":2,"s":1500,"a":0.93},{"d":2,"s":1700,"a":0.93},{"d":2,"s":1900,"a":0.93},
{"d":1.5,"s":100,"a":0.26},{"d":1.5,"s":300,"a":0.77},{"d":1.5,"s":500,"a":0.93},{"d":1.5,"s":700,"a":0.93},{"d":1.5,"s":900,"a":0.93},{"d":1.5,"s":1100,"a":0.93},{"d":1.5,"s":1300,"a":0.93},{"d":1.5,"s":1500,"a":0.93},{"d":1.5,"s":1700,"a":0.93},{"d":1.5,"s":1900,"a":0.93},
{"d":1,"s":100,"a":0.32},{"d":1,"s":300,"a":0.8},{"d":1,"s":500,"a":0.93},{"d":1,"s":700,"a":0.93},{"d":1,"s":900,"a":0.93},{"d":1,"s":1100,"a":0.93},{"d":1,"s":1300,"a":0.93},{"d":1,"s":1500,"a":0.93},{"d":1,"s":1700,"a":0.93},{"d":1,"s":1900,"a":0.93}
]},
"mark":{"type":"point","shape":"M-1,-0.4778H1V0.4778H-1Z","filled":true,"size":3782,"opacity":1,"stroke":"white","strokeWidth":1},
"encoding":{
"x":{"field":"s","type":"quantitative","scale":{"domain":[0,2000],"nice":false,"zero":false},"axis":{"values":[0,1000,2000],"format":"d","title":"Step","labelFlush":false,"labelFontSize":22,"titleFontSize":27,"labelPadding":10,"titlePadding":6}},
"y":{"field":"d","type":"quantitative","scale":{"domain":[0.75,7.25],"range":[473,91],"nice":false,"zero":false},"axis":{"values":[1,1.5,2,2.5,3,3.5,4,4.5,5,5.5,6,6.5,7],"tickCount":30,"format":".1f","labelOverlap":false,"title":"Data Size (1e3)","titleFont":"DejaVu Sans","titleFontSize":25,"labelFontSize":22,"labelPadding":10,"titlePadding":10}},
"color":{"field":"a","type":"quantitative","scale":{"domain":[0,0.1,0.2,0.3,0.4,0.5,0.6,0.7,0.8,0.9],"range":["#15305f","#285c9d","#4a89bf","#92c0dc","#d0e3ef","#f4f4f4","#f8dbc9","#eca583","#cf6553","#a2272f"],"clamp":true},"legend":{"title":null,"orient":"none","legendX":655,"legendY":91,"direction":"vertical","gradientLength":382,"gradientThickness":18,"gradientStrokeWidth":0,"values":[0,0.1,0.2,0.3,0.4,0.5,0.6,0.7,0.8,0.9],"format":".1f","labelFontSize":22,"labelOffset":10,"labelOverlap":false,"padding":0}}
}},
{"data":{"values":[{"s":902,"d":4.034}]},
"mark":{"type":"point","shape":"M-1,-0.197L0.606,-0.197L0.606,-0.396L1,0L0.606,0.396L0.606,0.197L-1,0.197Z","filled":true,"size":152881,"angle":0,"opacity":1,"strokeWidth":0,
"fill":{"gradient":"linear","x1":0,"y1":0,"x2":1,"y2":0,"stops":[{"offset":0,"color":"rgba(242,240,238,0.45)"},{"offset":0.3,"color":"rgba(228,224,224,0.5)"},{"offset":0.5,"color":"rgba(216,214,214,0.85)"},{"offset":0.6,"color":"#d6d6d6"},{"offset":1,"color":"#d6d6d6"}]}},
"encoding":{"x":{"field":"s","type":"quantitative","scale":{"domain":[0,2000],"nice":false,"zero":false}},"y":{"field":"d","type":"quantitative","scale":{"domain":[0.75,7.25],"range":[473,91],"nice":false,"zero":false}}}},
{"data":{"values":[{"s":842,"d":5.09,"txt":"Memorizing"}]},
"mark":{"type":"text","fontSize":29,"color":"white","align":"center","baseline":"middle"},
"encoding":{"x":{"field":"s","type":"quantitative","scale":{"domain":[0,2000],"nice":false,"zero":false}},"y":{"field":"d","type":"quantitative","scale":{"domain":[0.75,7.25],"range":[473,91],"nice":false,"zero":false}},"text":{"field":"txt"}}},
{"data":{"values":[{"s":1000,"d":7.62,"txt":"Train accuracy across training process"}]},
"mark":{"type":"text","font":"DejaVu Sans Condensed","fontWeight":"normal","fontSize":27,"color":"#262626","align":"center","baseline":"alphabetic"},
"encoding":{"x":{"field":"s","type":"quantitative","scale":{"domain":[0,2000],"nice":false,"zero":false}},"y":{"field":"d","type":"quantitative","scale":{"domain":[0.75,7.25],"range":[473,91],"nice":false,"zero":false}},"text":{"field":"txt"}}},
{"data":{"values":[{"s":-218,"d":8.02,"txt":"F."}]},
"mark":{"type":"text","fontSize":34,"align":"left","baseline":"alphabetic"},
"encoding":{"x":{"field":"s","type":"quantitative","scale":{"domain":[0,2000],"nice":false,"zero":false}},"y":{"field":"d","type":"quantitative","scale":{"domain":[0.75,7.25],"range":[473,91],"nice":false,"zero":false}},"text":{"field":"txt"}}},
{"data":{"values":[{"s":2374,"d":4.02,"txt":"Train Acc"}]},
"mark":{"type":"text","font":"DejaVu Sans","fontWeight":"normal","fontSize":24,"color":"#262626","angle":270,"align":"center","baseline":"middle"},
"encoding":{"x":{"field":"s","type":"quantitative","scale":{"domain":[0,2000],"nice":false,"zero":false}},"y":{"field":"d","type":"quantitative","scale":{"domain":[0.75,7.25],"range":[473,91],"nice":false,"zero":false}},"text":{"field":"txt"}}}
]
}
],"spacing":0,"bounds":"flush","resolve":{"scale":{"color":"independent","fill":"independent","stroke":"independent"},"legend":{"color":"independent","fill":"independent","stroke":"independent"}}}
],
"config":{
"view":{"stroke":null},
"axis":{"labelFont":"DejaVu Sans Condensed","titleFont":"DejaVu Sans Condensed","labelColor":"#262626","titleColor":"#262626","titleFontWeight":"normal","domain":false,"ticks":false,"gridColor":"#e0e0e0","gridWidth":1.5,"grid":false,"labelOverlap":false},
"legend":{"labelFont":"DejaVu Sans Condensed","titleFont":"DejaVu Sans","titleFontWeight":"normal","labelColor":"#262626","titleColor":"#262626"},
"text":{"font":"Liberation Sans","fontWeight":"bold","color":"black"}
}
}
